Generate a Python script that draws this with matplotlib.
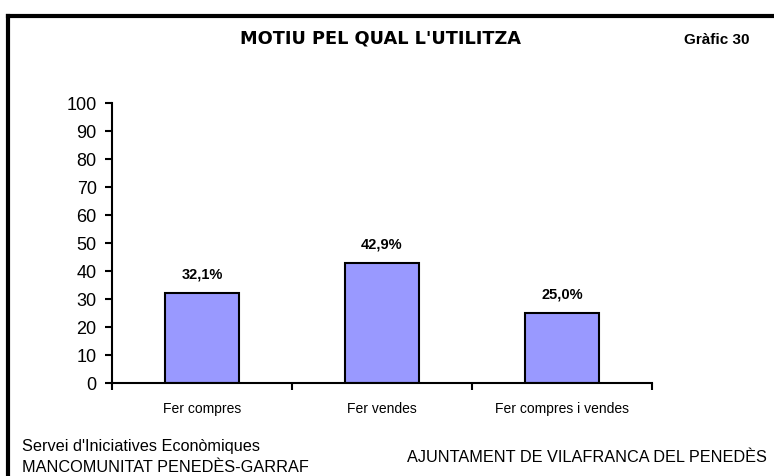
import matplotlib
matplotlib.use("Agg")
import matplotlib.pyplot as plt
from matplotlib.lines import Line2D

plt.rcParams['font.family'] = ['Liberation Sans', 'DejaVu Sans']

categories = ["Fer compres", "Fer vendes", "Fer compres i vendes"]
values = [32.1, 42.9, 25.0]
labels = ["32,1%", "42,9%", "25,0%"]
yticks = list(range(0, 101, 10))

fig = plt.figure(figsize=(7.74, 4.76), dpi=100)
ax = fig.add_axes([112/774, 1-383/476, (652-112)/774, (383-103)/476])

x = list(range(len(categories)))
ax.bar(x, values, width=0.41, color="#9999FF", edgecolor="black", linewidth=1.5)
for xi, v, lab in zip(x, values, labels):
    ax.text(xi, v + 4.2, lab, ha="center", va="bottom", fontsize=10.5, fontweight="bold")

ax.set_xlim(-0.5, len(categories) - 0.5)
ax.set_ylim(0, 100)
ax.set_yticks(yticks)
ax.set_yticklabels([str(t) for t in yticks], fontsize=13)
ax.set_xticks([i - 0.5 for i in range(len(categories) + 1)])
ax.set_xticklabels([])
ax.set_xticks(x, minor=True)
ax.set_xticklabels(categories, minor=True, fontsize=10)
ax.tick_params(axis="x", which="minor", length=0, pad=14)
ax.tick_params(axis="x", which="major", direction="out", length=5, width=1.5)
ax.tick_params(axis="y", direction="out", length=5, width=1.5, pad=6)
for s in ["top", "right"]:
    ax.spines[s].set_visible(False)
for s in ["left", "bottom"]:
    ax.spines[s].set_linewidth(1.5)

fig.text(381/774, 1-39/476, "MOTIU PEL QUAL L'UTILITZA", ha="center", va="center",
         fontsize=12.8, fontweight="bold", family="DejaVu Sans")
fig.text(717/774, 1-40/476, "Gràfic 30", ha="center", va="center",
         fontsize=11, fontweight="bold")
fig.text(22/774, 1-446/476, "Servei d'Iniciatives Econòmiques", ha="left", va="center", fontsize=11.7)
fig.text(22/774, 1-467/476, "MANCOMUNITAT PENEDÈS-GARRAF", ha="left", va="center", fontsize=11.7)
fig.text(767/774, 1-457/476, "AJUNTAMENT DE VILAFRANCA DEL PENEDÈS", ha="right", va="center", fontsize=11.7)

# border lines (left and top)
fig.add_artist(Line2D([8/774, 8/774], [0, 1-16/476], transform=fig.transFigure, color="black", linewidth=3))
fig.add_artist(Line2D([8/774, 1], [1-16/476, 1-16/476], transform=fig.transFigure, color="black", linewidth=3))

fig.savefig("out.png", dpi=100)
